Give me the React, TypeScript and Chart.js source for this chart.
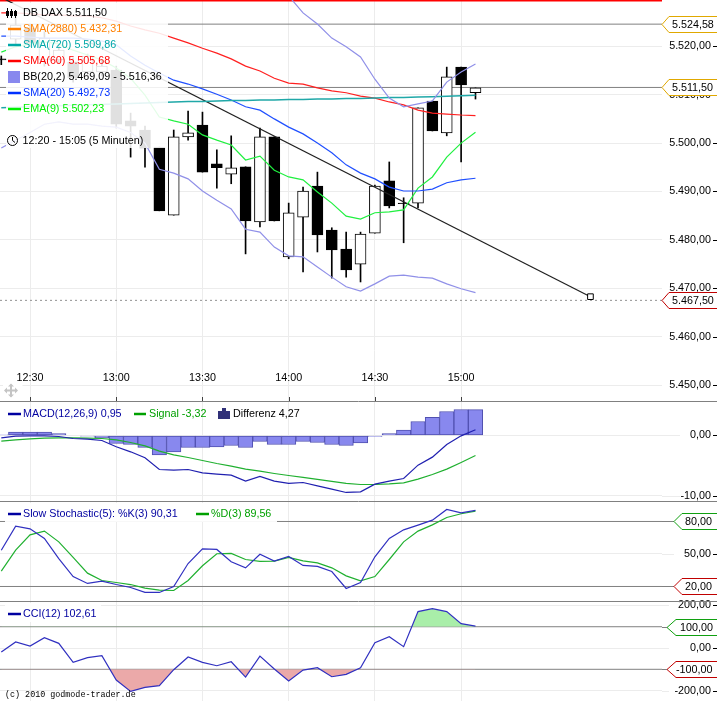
import React, { useEffect, useRef } from "react";
import { Chart, registerables } from "chart.js";

Chart.register(...registerables);

// ---------- axis data ----------
const timeTickIndex = [2, 8, 14, 20, 26, 32];
const timeTickLabels = ["12:30", "13:00", "13:30", "14:00", "14:30", "15:00"];
const priceTicks = [5450, 5460, 5470, 5480, 5490, 5500, 5510, 5520];
const macdTicks = [0, -10];
const stochTicks = [50];
const cciTicks = [200, 0, -200];

// ---------- candles ----------
const candleOpen = [5517.4, 5521.5, 5523.8, 5517.2, 5517.2, 5516.8, 5514.7, 5514.7, 5515.1, 5504.6, 5502.7, 5499.2, 5485.1, 5501.3, 5503.7, 5495.7, 5493.6, 5495.1, 5483.7, 5501.3, 5476.5, 5484.7, 5491.1, 5482.0, 5478.1, 5475.0, 5481.4, 5492.2, 5487.6, 5487.6, 5508.7, 5502.1, 5515.7, 5510.4];
const candleClose = [5517.2, 5524.4, 5520.7, 5521.7, 5519.2, 5513.5, 5518.0, 5515.9, 5503.9, 5503.5, 5499.0, 5486.0, 5501.3, 5502.1, 5494.0, 5494.9, 5494.9, 5483.9, 5501.3, 5483.9, 5485.6, 5490.1, 5481.0, 5477.9, 5473.8, 5481.2, 5491.1, 5487.0, 5487.5, 5507.3, 5502.5, 5513.7, 5512.0, 5511.4];
const candleHigh = [5518.0, 5526.7, 5524.6, 5523.0, 5520.1, 5517.6, 5518.4, 5517.2, 5515.9, 5506.2, 5503.5, 5499.2, 5502.7, 5506.6, 5506.4, 5498.6, 5501.5, 5495.1, 5503.1, 5501.3, 5487.6, 5490.9, 5494.0, 5482.5, 5481.6, 5481.6, 5491.3, 5496.1, 5488.7, 5507.3, 5508.7, 5515.7, 5515.7, 5511.4];
const candleLow = [5516.2, 5520.5, 5519.9, 5515.9, 5516.4, 5512.6, 5513.9, 5513.9, 5503.1, 5497.1, 5495.0, 5486.0, 5485.1, 5500.6, 5494.0, 5490.7, 5491.6, 5477.1, 5482.7, 5483.9, 5476.1, 5473.4, 5477.5, 5472.1, 5472.3, 5471.3, 5481.4, 5486.6, 5479.4, 5486.6, 5502.5, 5501.5, 5496.1, 5509.1];

// ---------- overlays ----------
const bbLower = [5499.0, 5500.6, 5502.2, 5503.9, 5504.4, 5503.9, 5503.9, 5503.5, 5503.3, 5502.2, 5500.0, 5494.6, 5493.8, 5492.6, 5490.1, 5488.2, 5486.4, 5482.2, 5481.6, 5478.5, 5476.7, 5476.5, 5474.4, 5472.3, 5470.3, 5469.4, 5470.9, 5472.5, 5472.7, 5472.3, 5472.1, 5470.9, 5469.9, 5469.09];
const bbUpper = [null, null, null, null, null, null, null, null, null, null, null, null, null, null, null, null, null, null, null, null, 5530.4, 5526.9, 5524.6, 5521.7, 5519.9, 5517.8, 5513.2, 5509.3, 5507.5, 5508.1, 5508.7, 5512.6, 5514.7, 5516.36];
const sma20 = [5522.1, 5522.1, 5521.9, 5521.7, 5521.7, 5521.7, 5521.5, 5521.1, 5520.3, 5518.0, 5516.1, 5514.5, 5513.0, 5512.2, 5511.2, 5510.1, 5508.9, 5507.5, 5506.8, 5505.0, 5503.3, 5501.9, 5500.0, 5498.0, 5495.5, 5493.8, 5492.6, 5490.9, 5490.1, 5490.1, 5490.5, 5491.8, 5492.4, 5492.73];
const sma60 = [5526.9, 5526.9, 5526.7, 5526.5, 5526.5, 5526.3, 5526.3, 5525.9, 5525.2, 5524.2, 5523.4, 5522.7, 5521.7, 5520.7, 5519.6, 5518.6, 5517.4, 5515.9, 5514.9, 5513.4, 5512.4, 5512.2, 5511.4, 5510.8, 5510.4, 5509.7, 5509.3, 5508.5, 5507.9, 5506.8, 5506.2, 5506.0, 5505.8, 5505.68];
const sma720 = [5507.3, 5507.4, 5507.5, 5507.6, 5507.7, 5507.8, 5507.9, 5508.0, 5508.1, 5508.2, 5508.3, 5508.4, 5508.5, 5508.6, 5508.6, 5508.7, 5508.8, 5508.8, 5508.9, 5508.9, 5509.0, 5509.0, 5509.1, 5509.1, 5509.2, 5509.2, 5509.3, 5509.4, 5509.4, 5509.5, 5509.6, 5509.7, 5509.8, 5509.86];
const ema9 = [5518.8, 5519.9, 5520.5, 5520.9, 5520.5, 5519.2, 5518.2, 5517.2, 5515.5, 5513.4, 5509.9, 5505.4, 5504.6, 5503.9, 5501.7, 5500.6, 5499.6, 5496.5, 5497.3, 5494.4, 5493.0, 5492.4, 5489.9, 5487.6, 5484.9, 5484.3, 5485.6, 5485.8, 5486.2, 5490.7, 5493.0, 5497.1, 5500.0, 5502.23];
const trendIndex = [0, 41];
const trendValue = [5530.1, 5468.26];
const priceLevelsSolid = [5524.58, 5511.5];
const priceLevelDotted = 5467.5;
const topRedLevel = 5529.4;

// ---------- MACD ----------
const macdHist = [0.1, 0.55, 0.55, 0.55, 0.33, 0, -0.1, -0.39, -1.32, -1.49, -1.98, -3.2, -2.7, -1.98, -1.98, -1.87, -1.65, -1.98, -0.99, -1.49, -1.49, -0.99, -1.16, -1.49, -1.65, -1.21, -0.17, 0.33, 0.88, 2.31, 2.98, 3.97, 4.3, 4.27];
const macdLine = [-0.39, -0.11, -0.06, -0.06, -0.17, -0.5, -0.61, -0.83, -1.87, -2.7, -3.69, -5.62, -5.73, -5.62, -6.17, -6.39, -6.56, -7.55, -6.78, -7.55, -7.93, -7.77, -8.32, -8.87, -9.42, -9.31, -8.04, -7.55, -7.11, -4.9, -3.58, -1.49, -0.06, 0.95];
const macdSignal = [-0.94, -0.72, -0.55, -0.44, -0.39, -0.39, -0.44, -0.5, -0.72, -1.16, -1.71, -2.59, -3.2, -3.64, -4.13, -4.63, -5.07, -5.56, -5.9, -6.28, -6.61, -6.94, -7.27, -7.6, -7.93, -8.1, -8.1, -7.99, -7.82, -7.22, -6.45, -5.56, -4.46, -3.32];

// ---------- Stochastic ----------
const stochK = [53.5, 75.7, 73.2, 64.3, 45.8, 29.2, 22.8, 24.9, 21.8, 19.1, 14.5, 14.5, 20, 41.2, 54.8, 54.2, 42.8, 37.2, 49.8, 43.4, 47.7, 39.4, 38.5, 33.8, 18.2, 23.7, 47.4, 64.3, 72.3, 76.6, 81.2, 91.1, 88, 90.31];
const stochD = [34.2, 53.5, 67.7, 71.1, 61.2, 46.8, 32.3, 25.5, 23.7, 21.8, 18.5, 16.6, 16.3, 25.5, 39.1, 50.2, 50.5, 44.9, 43.1, 43.4, 46.8, 43.7, 41.8, 37.2, 29.8, 25.2, 29.2, 44.9, 61.2, 71.1, 76.9, 83.7, 87.1, 89.56];
const stochLevels = [80, 20];

// ---------- CCI ----------
const cci = [-18.8, 28.3, 9.4, 48.7, 22, -67.5, -45.5, -36.1, -150.7, -204, -185, -177, -102, -42.4, -67.5, -83.2, -64.4, -136.6, -37.7, -98.9, -155.4, -103.6, -92.6, -135, -124, -92.6, 25.1, 53.4, 6.3, 171, 185, 171, 114.6, 102.61];
const cciLevels = [100, -100];

// ---------- texts ----------
const priceLegend = [
  { text: "DB DAX 5.511,50", color: "#000000", swatch: "icon" },
  { text: "SMA(2880) 5.432,31", color: "#ff8000", swatch: "line" },
  { text: "SMA(720) 5.509,86", color: "#00a8a8", swatch: "line" },
  { text: "SMA(60) 5.505,68", color: "#ff0000", swatch: "line" },
  { text: "BB(20,2) 5.469,09 - 5.516,36", color: "#000000", swatch: "box" },
  { text: "SMA(20) 5.492,73", color: "#0030ff", swatch: "line" },
  { text: "EMA(9) 5.502,23", color: "#00f000", swatch: "line" },
];
const rangeLabel = "12:20 - 15:05 (5 Minuten)";
const macdLegend = ["MACD(12,26,9) 0,95", "Signal -3,32", "Differenz 4,27"];
const stochLegend = ["Slow Stochastic(5): %K(3) 90,31", "%D(3) 89,56"];
const cciLegend = "CCI(12) 102,61";
const copyright = "(c) 2010 godmode-trader.de";

const GOLD = "#e0a800";
const TAG_RED = "#c00000";
const TAG_GREEN = "#10a010";
const FONT_SIZE = 10.75;
const FONT = `${FONT_SIZE}px "Liberation Sans"`;

const fmt = (v: number) => {
  const neg = v < 0;
  const [a, b] = Math.abs(v).toFixed(2).split(".");
  const grouped = a.replace(/\B(?=(\d{3})+$)/g, ".");
  return (neg ? "-" : "") + grouped + "," + b;
};
const pts = (a: (number | null)[]) => a.map((y, x) => ({ x, y }));
const XMIN = -0.09;
const XMAX = 45.98;
const level = (v: number) => [
  { x: XMIN, y: v },
  { x: XMAX, y: v },
];

const line = (label: string, data: (number | null)[], color: string, yAxisID: string, width = 1.2) => ({
  type: "line" as const,
  label,
  data: pts(data),
  borderColor: color,
  backgroundColor: color,
  borderWidth: width,
  pointRadius: 0,
  tension: 0,
  yAxisID,
  order: 0,
});
const levelLine = (v: number, yAxisID: string, extra: any = {}) => ({
  type: "line" as const,
  label: "level " + v,
  data: level(v),
  borderColor: "#808080",
  borderWidth: 1,
  pointRadius: 0,
  yAxisID,
  order: 5,
  ...extra,
});

const yAxis = (min: number, max: number, weight: number, stackWeight: number, ticks: number[]) => ({
  type: "linear" as const,
  position: "right" as const,
  stack: "panels",
  stackWeight,
  weight,
  min,
  max,
  offset: false,
  border: { display: false },
  grid: { color: "#ececec", lineWidth: 1, drawTicks: false, offset: false },
  ticks: {
    autoSkip: false,
    crossAlign: "far" as const,
    padding: 0,
    color: "#000000",
    font: { family: "Liberation Sans", size: FONT_SIZE },
    callback: (v: any) => fmt(Number(v)),
  },
  afterBuildTicks: (s: any) => {
    s.ticks = ticks.map((value) => ({ value }));
  },
  afterFit: (s: any) => {
    s.width = 49;
    s.paddingTop = 0;
    s.paddingBottom = 0;
  },
});

const hLine = (ctx: any, x1: number, x2: number, y: number, color: string) => {
  ctx.strokeStyle = color;
  ctx.lineWidth = 1;
  ctx.beginPath();
  ctx.moveTo(x1, Math.round(y) + 0.5);
  ctx.lineTo(x2, Math.round(y) + 0.5);
  ctx.stroke();
};

const tag = (ctx: any, y: number, tip: number, body: number, textX: number, color: string, text: string) => {
  const c = Math.round(y) + 0.5;
  ctx.fillStyle = "#ffffff";
  ctx.strokeStyle = color;
  ctx.lineWidth = 1;
  ctx.beginPath();
  ctx.moveTo(717.5, c - 8);
  ctx.lineTo(body, c - 8);
  ctx.lineTo(tip, c);
  ctx.lineTo(body, c + 8);
  ctx.lineTo(717.5, c + 8);
  ctx.fill();
  ctx.stroke();
  ctx.fillStyle = "#000000";
  ctx.font = FONT;
  ctx.textAlign = "left";
  ctx.textBaseline = "middle";
  ctx.fillText(text, textX, c + 0.5);
};

const swatch = (ctx: any, x1: number, x2: number, y: number, color: string) => {
  ctx.strokeStyle = color;
  ctx.lineWidth = 2.5;
  ctx.beginPath();
  ctx.moveTo(x1, y);
  ctx.lineTo(x2, y);
  ctx.stroke();
};

const label = (ctx: any, text: string, x: number, y: number, color: string) => {
  ctx.fillStyle = color;
  ctx.font = FONT;
  ctx.textAlign = "left";
  ctx.textBaseline = "middle";
  ctx.fillText(text, x, y);
};

const decor = {
  id: "decor",
  beforeDatasetsDraw(chart: any) {
    const { ctx, scales, chartArea } = chart;
    ctx.save();
    // grid lines of the lower panels run on towards their labels
    macdTicks.forEach((v) => hLine(ctx, chartArea.right, 680, scales.macd.getPixelForValue(v), "#ececec"));
    stochTicks.forEach((v) => hLine(ctx, chartArea.right, 674, scales.stoch.getPixelForValue(v), "#ececec"));
    cciTicks.forEach((v) => hLine(ctx, chartArea.right, 669, scales.cci.getPixelForValue(v), "#ececec"));
    stochLevels.forEach((v) => hLine(ctx, chartArea.right, 674, scales.stoch.getPixelForValue(v), "#808080"));
    cciLevels.forEach((v) => hLine(ctx, chartArea.right, 667, scales.cci.getPixelForValue(v), "#808080"));
    // small tick dashes right of the labels
    ["y", "macd", "stoch", "cci"].forEach((id) => {
      scales[id].ticks.forEach((t: any) => hLine(ctx, 713, 717, scales[id].getPixelForValue(t.value), "#000000"));
    });
    ctx.restore();
  },
  afterDraw(chart: any) {
    const { ctx, scales } = chart;
    ctx.save();
    // panel separators
    ["y", "macd", "stoch"].forEach((id) => hLine(ctx, 0, 717, scales[id].bottom, "#808080"));

    // time-axis tick marks
    ctx.strokeStyle = "#404040";
    ctx.lineWidth = 1;
    timeTickIndex.forEach((v) => {
      const x = Math.round(scales.x.getPixelForValue(v)) + 0.5;
      ctx.beginPath();
      ctx.moveTo(x, scales.y.bottom - 4);
      ctx.lineTo(x, scales.y.bottom);
      ctx.stroke();
    });

    // price legend veil
    ctx.fillStyle = "rgba(255,255,255,0.88)";
    ctx.fillRect(6, 3, 162, 145);
    ctx.fillStyle = "rgba(255,255,255,0.95)";
    ctx.fillRect(5, 503, 272, 19);
    ctx.fillRect(5, 603, 96, 19);

    priceLegend.forEach((row, i) => {
      const y = 13 + i * 16;
      if (row.swatch === "line") swatch(ctx, 8, 21, y, row.color);
      if (row.swatch === "box") {
        ctx.fillStyle = "#8888ee";
        ctx.fillRect(8, y - 6, 12, 12);
      }
      if (row.swatch === "icon") {
        ctx.strokeStyle = "#000000";
        ctx.fillStyle = "#000000";
        ctx.lineWidth = 1;
        [7.5, 11.5, 15.5].forEach((x, k) => {
          ctx.beginPath();
          ctx.moveTo(x, y - 5 + k);
          ctx.lineTo(x, y + 5);
          ctx.stroke();
          ctx.fillRect(x - 1.5, y - 2, 3, 5);
        });
      }
      label(ctx, row.text, 23, y + 0.5, row.color);
    });
    // clock
    ctx.strokeStyle = "#000000";
    ctx.lineWidth = 1;
    ctx.beginPath();
    ctx.arc(12.5, 140.5, 5, 0, Math.PI * 2);
    ctx.moveTo(12.5, 137);
    ctx.lineTo(12.5, 140.5);
    ctx.lineTo(15, 142.5);
    ctx.stroke();
    label(ctx, rangeLabel, 22.5, 141.5, "#000000");

    // MACD legend
    swatch(ctx, 8, 21, 414, "#0000a0");
    label(ctx, macdLegend[0], 23, 414.5, "#0000a0");
    swatch(ctx, 134, 146, 414, "#00a000");
    label(ctx, macdLegend[1], 149, 414.5, "#00a000");
    ctx.fillStyle = "#303078";
    ctx.fillRect(218, 411, 4, 8);
    ctx.fillRect(222, 408, 4, 11);
    ctx.fillRect(226, 411, 4, 8);
    label(ctx, macdLegend[2], 233, 414.5, "#000000");

    // Stochastic legend
    swatch(ctx, 8, 21, 514, "#0000a0");
    label(ctx, stochLegend[0], 23, 514.5, "#0000a0");
    swatch(ctx, 196, 209, 514, "#00a000");
    label(ctx, stochLegend[1], 211, 514.5, "#00a000");

    // CCI legend
    swatch(ctx, 8, 21, 614, "#0000a0");
    label(ctx, cciLegend, 23, 614.5, "#0000a0");

    // move handle over the first time label
    ctx.fillStyle = "#ffffff";
    ctx.fillRect(3, 381, 19.5, 15);
    ctx.strokeStyle = "#c4c4c4";
    ctx.fillStyle = "#c4c4c4";
    ctx.lineWidth = 2;
    ctx.beginPath();
    ctx.moveTo(5, 390.5);
    ctx.lineTo(17, 390.5);
    ctx.moveTo(11, 384.5);
    ctx.lineTo(11, 396.5);
    ctx.stroke();
    [
      [4, 390.5, 7, 387.5, 7, 393.5],
      [18, 390.5, 15, 387.5, 15, 393.5],
      [11, 383.5, 8, 386.5, 14, 386.5],
      [11, 397.5, 8, 394.5, 14, 394.5],
    ].forEach((p) => {
      ctx.beginPath();
      ctx.moveTo(p[0], p[1]);
      ctx.lineTo(p[2], p[3]);
      ctx.lineTo(p[4], p[5]);
      ctx.fill();
    });

    // price tags
    priceLevelsSolid.forEach((v) => tag(ctx, scales.y.getPixelForValue(v), 662, 669, 672, GOLD, fmt(v)));
    tag(ctx, scales.y.getPixelForValue(priceLevelDotted), 662, 669, 672, TAG_RED, fmt(priceLevelDotted));
    tag(ctx, scales.stoch.getPixelForValue(stochLevels[0]), 674, 682, 685, TAG_GREEN, fmt(stochLevels[0]));
    tag(ctx, scales.stoch.getPixelForValue(stochLevels[1]), 674, 682, 685, TAG_RED, fmt(stochLevels[1]));
    tag(ctx, scales.cci.getPixelForValue(cciLevels[0]), 667, 676, 680, TAG_GREEN, fmt(cciLevels[0]));
    tag(ctx, scales.cci.getPixelForValue(cciLevels[1]), 667, 676, 676, TAG_RED, fmt(cciLevels[1]));

    // copyright
    ctx.fillStyle = "#000000";
    ctx.font = '8.4px "Liberation Mono"';
    ctx.textAlign = "left";
    ctx.textBaseline = "middle";
    ctx.fillText(copyright, 5, 695);
    ctx.restore();
  },
};

export default function App() {
  const ref = useRef<HTMLCanvasElement>(null);
  useEffect(() => {
    const isUp = candleOpen.map((o, i) => candleClose[i] >= o);
    const chart = new Chart(ref.current!, {
      type: "bar",
      data: {
        datasets: [
          // price panel
          levelLine(topRedLevel, "y", { borderColor: "#ff0000", borderWidth: 1.5 }),
          ...priceLevelsSolid.map((v) => levelLine(v, "y")),
          levelLine(priceLevelDotted, "y", { borderDash: [2, 3], borderColor: "#909090" }),
          {
            type: "bar",
            label: "wick",
            data: candleLow.map((l, i) => ({ x: i, y: [l, candleHigh[i]] })),
            backgroundColor: "#000000",
            barThickness: 1,
            grouped: false,
            yAxisID: "y",
            order: 3,
          },
          {
            type: "bar",
            label: "body",
            data: candleOpen.map((o, i) => ({ x: i, y: [Math.min(o, candleClose[i]), Math.max(o, candleClose[i])] })),
            backgroundColor: isUp.map((u) => (u ? "#ffffff" : "#000000")),
            borderColor: "#000000",
            borderWidth: 1,
            borderSkipped: false,
            barThickness: 11,
            grouped: false,
            yAxisID: "y",
            order: 2,
          },
          line("BB lower", bbLower, "#9090e8", "y"),
          line("BB upper", bbUpper, "#9090e8", "y"),
          line("SMA(720)", sma720, "#20a8a8", "y", 1.5),
          line("SMA(60)", sma60, "#ff2020", "y"),
          line("SMA(20)", sma20, "#2050ff", "y"),
          line("EMA(9)", ema9, "#20f040", "y"),
          {
            type: "line",
            label: "Trend",
            data: trendIndex.map((x, i) => ({ x, y: trendValue[i] })),
            borderColor: "#202020",
            borderWidth: 1.2,
            pointStyle: "rect",
            pointRadius: [0, 4],
            pointBackgroundColor: "#ffffff",
            pointBorderColor: "#000000",
            pointBorderWidth: 1,
            yAxisID: "y",
            order: 0,
          },
          // MACD panel
          {
            type: "bar",
            label: "Differenz",
            data: pts(macdHist),
            backgroundColor: "#8888ee",
            borderColor: "#5050b0",
            borderWidth: 1,
            borderSkipped: false,
            barThickness: 14.4,
            grouped: false,
            yAxisID: "macd",
            order: 2,
          },
          line("MACD", macdLine, "#2020b0", "macd"),
          line("Signal", macdSignal, "#20b030", "macd"),
          // Stochastic panel
          ...stochLevels.map((v) => levelLine(v, "stoch")),
          line("%K", stochK, "#3030c0", "stoch"),
          line("%D", stochD, "#20b030", "stoch"),
          // CCI panel
          ...cciLevels.map((v) => levelLine(v, "cci")),
          {
            type: "line",
            label: "CCI over",
            data: pts(cci),
            borderWidth: 0,
            pointRadius: 0,
            fill: { target: { value: cciLevels[0] }, above: "#a9eea9", below: "rgba(0,0,0,0)" },
            yAxisID: "cci",
            order: 4,
          },
          {
            type: "line",
            label: "CCI under",
            data: pts(cci),
            borderWidth: 0,
            pointRadius: 0,
            fill: { target: { value: cciLevels[1] }, above: "rgba(0,0,0,0)", below: "#eba9a9" },
            yAxisID: "cci",
            order: 4,
          },
          line("CCI", cci, "#3030c0", "cci"),
        ] as any,
      },
      options: {
        responsive: false,
        animation: false,
        devicePixelRatio: 1,
        parsing: { xAxisKey: "x", yAxisKey: "y" },
        layout: { padding: { left: 0, top: 0, bottom: 0, right: 6 }, autoPadding: false },
        plugins: { legend: { display: false }, tooltip: { enabled: false } },
        scales: {
          x: {
            type: "linear",
            min: XMIN,
            max: XMAX,
            position: "bottom",
            offset: false,
            border: { display: false },
            grid: { color: "#ececec", drawTicks: false, offset: false },
            ticks: {
              autoSkip: false,
              maxRotation: 0,
              mirror: true,
              padding: 317,
              color: "#000000",
              font: { family: "Liberation Sans", size: FONT_SIZE },
              callback: (v: any) => timeTickLabels[timeTickIndex.indexOf(Number(v))] ?? "",
            },
            afterBuildTicks: (s: any) => {
              s.ticks = timeTickIndex.map((value) => ({ value }));
            },
            afterFit: (s: any) => {
              s.height = 0;
              s.paddingLeft = 0;
              s.paddingRight = 0;
            },
          },
          y: yAxis(5446.7, 5529.57, 10, 401, priceTicks),
          macd: yAxis(-10.83, 5.7, 20, 100, macdTicks),
          stoch: yAxis(6.6, 98.9, 30, 100, stochTicks),
          cci: yAxis(-249, 221, 40, 100, cciTicks),
        } as any,
      },
      plugins: [decor],
    } as any);
    return () => chart.destroy();
  }, []);
  return (
    <div style={{ position: "fixed", left: 0, top: 0, width: 717, height: 701, background: "#fff" }}>
      <canvas ref={ref} width={717} height={701} style={{ display: "block" }} />
    </div>
  );
}
